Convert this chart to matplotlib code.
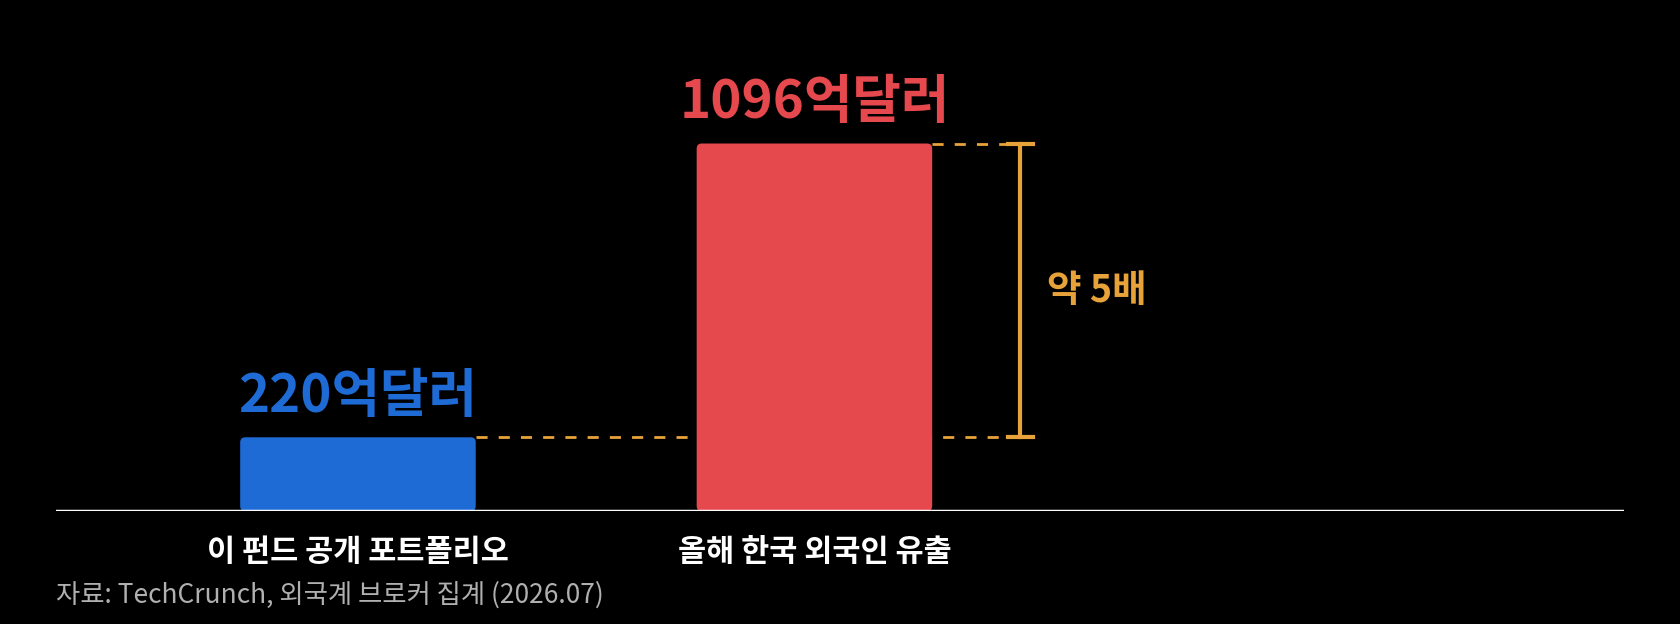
import matplotlib.pyplot as plt
from matplotlib.patches import FancyBboxPatch

plt.rcParams['font.family'] = ['Noto Sans CJK KR', 'DejaVu Sans']

# data
categories = ['이 펀드 공개 포트폴리오', '올해 한국 외국인 유출']
values = [220, 1096]
value_labels = ['220억달러', '1096억달러']
bar_colors = ['#1F6BD6', '#E5484D']
ratio_label = '약 5배'
source = '자료: TechCrunch, 외국계 브로커 집계 (2026.07)'

orange = '#E8A23A'

fig = plt.figure(figsize=(16.8, 6.24), dpi=100, facecolor='black')
ax = fig.add_axes([0.0332, 0.181, 0.9336, 0.819])
ax.set_facecolor('black')
ax.set_xlim(-0.662, 2.774)
ax.set_ylim(0, 1524)
ax.axis('off')

width = 0.516
# aspect between data units so corners come out round
px_x = 0.9336 * 1680 / (2.774 + 0.662)
px_y = 0.819 * 624 / 1524
aspect = px_x / px_y

for i, (v, c) in enumerate(zip(values, bar_colors)):
    p = FancyBboxPatch((i - width / 2, 0), width, v,
                       boxstyle='round,pad=0,rounding_size=0.011',
                       mutation_aspect=aspect, facecolor=c, edgecolor='none',
                       zorder=2)
    ax.add_patch(p)
    ax.text(i, v + 42, value_labels[i], ha='center', va='bottom',
            color=c, fontsize=38, fontweight='black')
    ax.text(i, -122, categories[i], ha='center', va='center',
            color='white', fontsize=22, fontweight='bold', clip_on=False)

# baseline
ax.axhline(0, color='white', lw=2.5, zorder=3)

# comparison bracket
xb = 1.451
cap = 0.027
for i, v in enumerate(values):
    ax.plot([i + width / 2, xb], [v, v], color=orange, lw=2,
            linestyle=(0, (4, 4)), zorder=1)
ax.plot([xb, xb], [values[0], values[1]], color=orange, lw=3)
for v in values:
    ax.plot([xb - cap, xb + cap], [v, v], color=orange, lw=3)
ax.text(1.51, (values[0] + values[1]) / 2, ratio_label, ha='left',
        va='center', color=orange, fontsize=27, fontweight='bold')

fig.text(0.0332, 0.047, source, ha='left', va='center', color='#B0B0B0',
         fontsize=19)

fig.savefig('out.png', dpi=100, facecolor='black')
